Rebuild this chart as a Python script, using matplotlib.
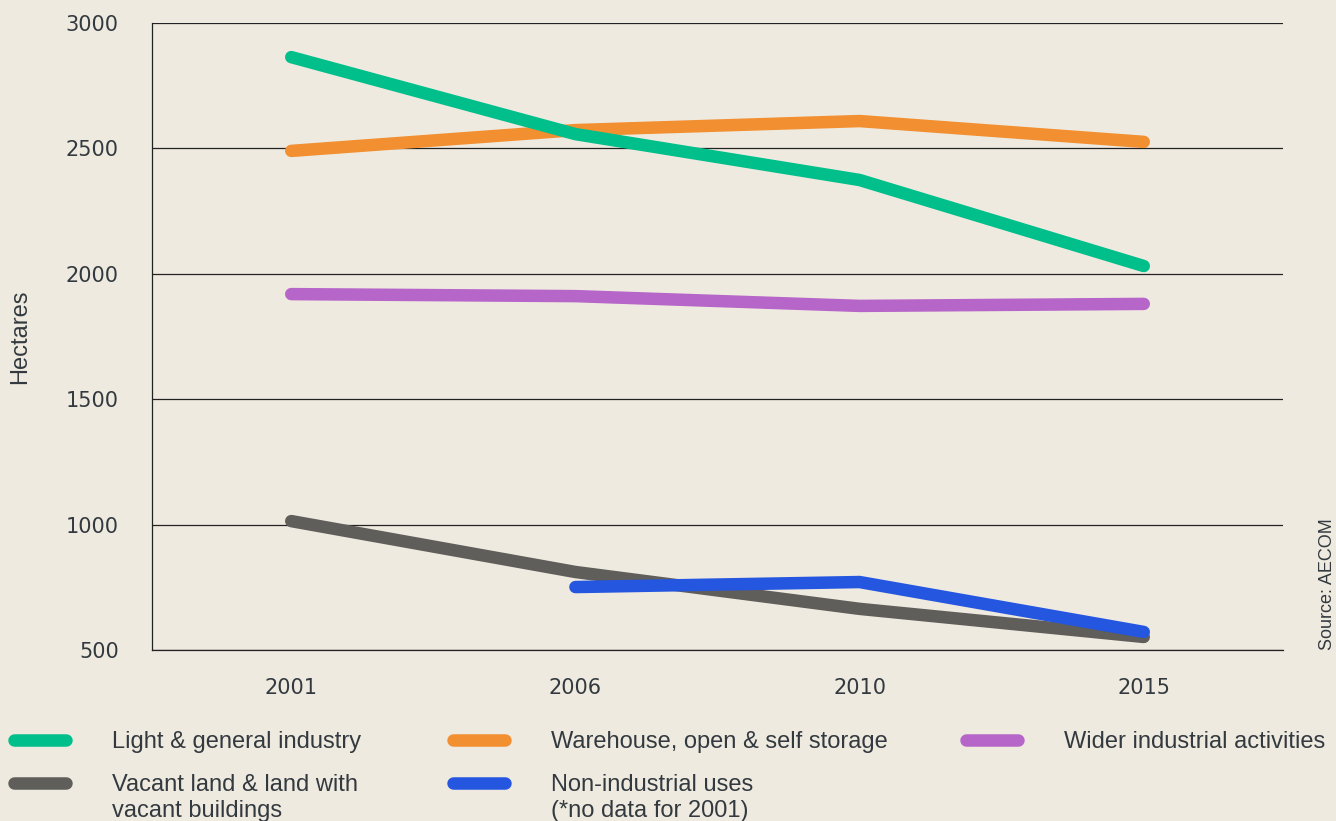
import numpy as np
import matplotlib
matplotlib.use("Agg")
import matplotlib.pyplot as plt
from matplotlib.lines import Line2D

years = ["2001", "2006", "2010", "2015"]

light = [2864, 2557, 2374, 2031]
warehouse = [2490, 2573, 2609, 2526]
wider = [1919, 1911, 1872, 1880]
vacant = [1014, 811, 664, 552]
nonind = [np.nan, 751, 771, 572]   # no data for 2001

labels = ["Light & general industry", "Warehouse, open & self storage",
          "Wider industrial activities", "Vacant land & land with",
          "Non-industrial uses"]
labels2 = ["vacant buildings", "(*no data for 2001)"]
colors = ["#00bf8a", "#f28f30", "#b666c8", "#5f5e5a", "#2456e0"]

bg = "#efeae0"
txt = "#333a3f"

fig = plt.figure(figsize=(13.36, 8.21), dpi=100, facecolor=bg)
ax = fig.add_axes([152/1336, 1-650/821, (1283-152)/1336, (650-23)/821])
ax.set_facecolor(bg)

x = np.arange(len(years))
lw = 9
series = [light, warehouse, wider, vacant, nonind]
zord = [4, 3, 3, 3, 4]
for ys, c, z in zip(series, colors, zord):
    ax.plot(x, ys, color=c, lw=lw, solid_capstyle="round", zorder=z)

ax.set_xlim(-0.49, 3.49)
ax.set_ylim(500, 3000)
ax.set_yticks([500, 1000, 1500, 2000, 2500, 3000])
ax.set_xticks(x)
ax.set_xticklabels(years)
ax.tick_params(length=0, labelsize=15, colors=txt)
ax.tick_params(axis="y", pad=24)
ax.tick_params(axis="x", pad=20)
ax.grid(axis="y", color="#222222", lw=0.9, zorder=1)
ax.set_axisbelow(True)
for s in ["top", "right"]:
    ax.spines[s].set_visible(False)
for s in ["left", "bottom"]:
    ax.spines[s].set_color("#222222")
    ax.spines[s].set_linewidth(0.9)

ax.set_ylabel("Hectares", fontsize=17, color=txt, family="Liberation Sans", labelpad=25)

# legend, three columns at fixed places
lf = dict(family="Liberation Sans", size=17)
def leg(idx, xpos):
    h = [Line2D([], [], color=colors[i], lw=lw, solid_capstyle="round") for i in idx]
    l = fig.legend(h, [labels[i] for i in idx], loc="upper left",
                   bbox_to_anchor=(xpos/1336, 1-731/821), frameon=False,
                   prop=lf, handlelength=2.2, handletextpad=1.95,
                   labelspacing=0.9, borderpad=0, borderaxespad=0,
                   labelcolor=txt)
    return l

leg([0, 3], 14)
leg([1, 4], 453)
leg([2], 966)
fig.text(112/1336, 1-811/821, labels2[0], fontdict=lf, color=txt, va="center")
fig.text(551/1336, 1-811/821, labels2[1], fontdict=lf, color=txt, va="center")

fig.text(1327/1336, 1-650/821, "Source: AECOM", rotation=90, ha="center",
         va="bottom", fontsize=13, color=txt, family="Liberation Sans")

fig.savefig("out.png", dpi=100, facecolor=bg)
